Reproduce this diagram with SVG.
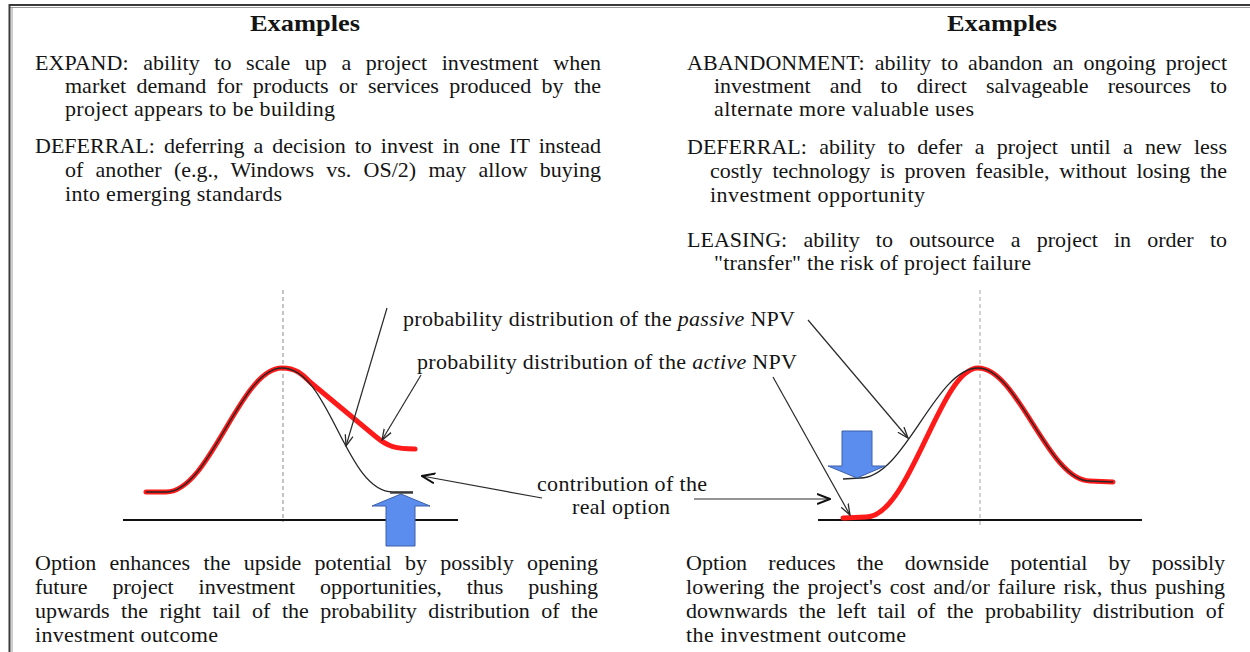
<svg xmlns="http://www.w3.org/2000/svg" width="1250" height="652" viewBox="0 0 1250 652">
  <style>
    .t { font-family: "Liberation Serif", "Times New Roman", serif; font-size: 22px; fill: #141414; }
    .h { font-family: "Liberation Serif", "Times New Roman", serif; font-size: 24px; font-weight: bold; fill: #141414; }
    .axis { stroke: #111; stroke-width: 2; fill: none; }
    .mid { fill: none; stroke-dasharray: 4 3; }
    .active { fill: none; stroke: #ff1a1a; stroke-width: 5; stroke-linecap: round; stroke-linejoin: round; }
    .passive { fill: none; stroke: #262626; stroke-width: 1.3; }
    .push { fill: #5b8def; stroke: #3c5fa6; stroke-width: 1; }
    .lead { fill: none; stroke: #2a2a2a; stroke-width: 1.2; }
  </style>
  <defs>
    <marker id="head" viewBox="0 0 12 10" refX="11" refY="5" markerWidth="12" markerHeight="10" markerUnits="userSpaceOnUse" orient="auto">
      <path d="M0,1 L11,5 L0,9" fill="none" stroke="#2a2a2a" stroke-width="1.3"/>
    </marker>
    <marker id="headBold" viewBox="0 0 14 12" refX="13" refY="6" markerWidth="14" markerHeight="12" markerUnits="userSpaceOnUse" orient="auto">
      <path d="M0,1 L13,6 L0,11" fill="none" stroke="#111" stroke-width="2"/>
    </marker>
  </defs>

  <rect width="1250" height="652" fill="#fff"/>

  <!-- page frame -->
  <g id="frame" fill="none">
    <line x1="9" y1="5" x2="1250" y2="5" stroke="#3a3a3a" stroke-width="2"/>
    <line x1="9" y1="7.5" x2="1250" y2="7.5" stroke="#9a9a9a" stroke-width="1"/>
    <line x1="9.5" y1="4" x2="9.5" y2="652" stroke="#3a3a3a" stroke-width="2"/>
    <line x1="12" y1="7" x2="12" y2="652" stroke="#9a9a9a" stroke-width="1"/>
  </g>

  <!-- upside examples -->
  <g id="upside-examples">
    <text class="h" x="250" y="31" textLength="110" lengthAdjust="spacingAndGlyphs">Examples</text>
    <text class="t" x="35" y="70" word-spacing="9" textLength="566" lengthAdjust="spacing">EXPAND: ability to scale up a project investment when</text>
    <text class="t" x="65" y="92.5" word-spacing="5" textLength="536" lengthAdjust="spacing">market demand for products or services produced by the</text>
    <text class="t" x="65" y="115.5" textLength="270" lengthAdjust="spacing">project appears to be building</text>
    <text class="t" x="35" y="153" word-spacing="3.5" textLength="566" lengthAdjust="spacing">DEFERRAL: deferring a decision to invest in one IT instead</text>
    <text class="t" x="65" y="177" word-spacing="6.7" textLength="536" lengthAdjust="spacing">of another (e.g., Windows vs. OS/2) may allow buying</text>
    <text class="t" x="65" y="201" textLength="217" lengthAdjust="spacing">into emerging standards</text>
  </g>

  <!-- downside examples -->
  <g id="downside-examples">
    <text class="h" x="947" y="31" textLength="110" lengthAdjust="spacingAndGlyphs">Examples</text>
    <text class="t" x="687" y="70" word-spacing="4.4" textLength="540" lengthAdjust="spacing">ABANDONMENT: ability to abandon an ongoing project</text>
    <text class="t" x="714" y="92.5" word-spacing="13.6" textLength="513" lengthAdjust="spacing">investment and to direct salvageable resources to</text>
    <text class="t" x="714" y="115.5" textLength="260" lengthAdjust="spacing">alternate more valuable uses</text>
    <text class="t" x="687" y="154" word-spacing="6.8" textLength="540" lengthAdjust="spacing">DEFERRAL: ability to defer a project until a new less</text>
    <text class="t" x="710" y="178" word-spacing="4.4" textLength="517" lengthAdjust="spacing">costly technology is proven feasible, without losing the</text>
    <text class="t" x="710" y="202" textLength="215" lengthAdjust="spacing">investment opportunity</text>
    <text class="t" x="687" y="247" word-spacing="10.7" textLength="540" lengthAdjust="spacing">LEASING: ability to outsource a project in order to</text>
    <text class="t" x="714" y="270" textLength="317" lengthAdjust="spacing">"transfer" the risk of project failure</text>
  </g>

  <!-- upside chart: option lifts the right tail -->
  <g id="upside-chart">
    <line class="axis" x1="123" y1="520" x2="458" y2="520"/>
    <line class="mid" x1="283" y1="290" x2="283" y2="522" stroke="#8a8a8a" stroke-width="1"/>
    <path class="active" d="M146,492 L166,492 C210,492 240,368 282,368 C296,368 302,374 310,382 L375,436 C388,447 396,449 415,449"/>
    <path class="passive" d="M146,492 L166,492 C210,492 240,368 282,368 C330,368 345,492 393,492 L413,492"/>
    <polygon class="push" points="401,494 430,506 415,506 415,546 386,546 386,506 372,506"/>
    <line x1="390" y1="493" x2="413" y2="493" stroke="#262626" stroke-width="1.3"/>
  </g>

  <!-- downside chart: option lowers the left tail -->
  <g id="downside-chart">
    <line class="axis" x1="818" y1="520" x2="1142" y2="520"/>
    <line class="mid" x1="980" y1="290" x2="980" y2="525" stroke="#d2d2d2" stroke-width="2"/>
    <path class="active" d="M843,518 L866,517 C910,517 940,368 978,368 C1018,368 1048,481 1090,481 L1113,482"/>
    <path class="passive" d="M843,479 L860,478 C905,478 935,368 978,368 C1018,368 1048,481 1090,481 L1113,482"/>
    <polygon class="push" points="842,431 872,431 872,466 885,466 857,478 828,466 842,466"/>
  </g>

  <!-- shared labels -->
  <g id="label-passive">
    <text class="t" x="403" y="326" textLength="392" lengthAdjust="spacing">probability distribution of the <tspan font-style="italic">passive</tspan> NPV</text>
  </g>
  <g id="label-active">
    <text class="t" x="417" y="369" textLength="380" lengthAdjust="spacing">probability distribution of the <tspan font-style="italic">active</tspan> NPV</text>
  </g>
  <g id="label-contribution">
    <text class="t" x="537" y="491" textLength="170" lengthAdjust="spacing">contribution of the</text>
    <text class="t" x="572" y="514" textLength="98" lengthAdjust="spacing">real option</text>
  </g>

  <!-- leader arrows -->
  <g id="connectors">
    <line class="lead" x1="387" y1="308" x2="346" y2="446" marker-end="url(#head)"/>
    <line class="lead" x1="421" y1="375" x2="382" y2="440" marker-end="url(#head)"/>
    <line class="lead" x1="542" y1="498" x2="422" y2="476" marker-end="url(#headBold)"/>
    <line class="lead" x1="694" y1="499" x2="830" y2="499" stroke="#111" stroke-width="1.6" marker-end="url(#headBold)"/>
    <line class="lead" x1="808" y1="320" x2="908" y2="438" marker-end="url(#head)"/>
    <line class="lead" x1="773" y1="377" x2="850" y2="515" marker-end="url(#head)"/>
  </g>

  <!-- captions -->
  <g id="upside-caption">
    <text class="t" x="35" y="570" word-spacing="7.8" textLength="563" lengthAdjust="spacing">Option enhances the upside potential by possibly opening</text>
    <text class="t" x="35" y="593.5" word-spacing="19.5" textLength="563" lengthAdjust="spacing">future project investment opportunities, thus pushing</text>
    <text class="t" x="35" y="617.5" word-spacing="6" textLength="563" lengthAdjust="spacing">upwards the right tail of the probability distribution of the</text>
    <text class="t" x="35" y="642" textLength="183" lengthAdjust="spacing">investment outcome</text>
  </g>
  <g id="downside-caption">
    <text class="t" x="686" y="570" word-spacing="15.7" textLength="539" lengthAdjust="spacing">Option reduces the downside potential by possibly</text>
    <text class="t" x="686" y="593.5" word-spacing="2.4" textLength="539" lengthAdjust="spacing">lowering the project's cost and/or failure risk, thus pushing</text>
    <text class="t" x="686" y="617.5" word-spacing="5.8" textLength="538" lengthAdjust="spacing">downwards the left tail of the probability distribution of</text>
    <text class="t" x="686" y="642" textLength="220" lengthAdjust="spacing">the investment outcome</text>
  </g>
</svg>
